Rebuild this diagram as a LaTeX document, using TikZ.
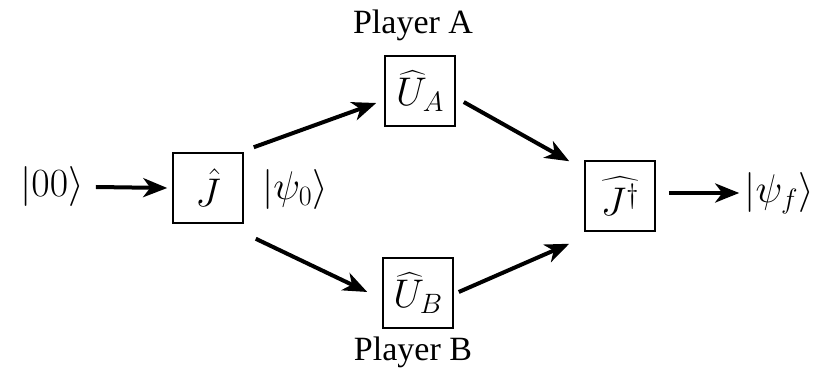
\RequirePackage{fix-cm}
\documentclass[tikz,border=0pt]{standalone}
\usepackage{amsmath}
\usepackage{fontspec}
\newfontfamily\playerfont{Liberation Serif}
\usetikzlibrary{arrows.meta}

\tikzset{
  gate/.style={draw,line width=1.5pt,minimum size=70pt,inner sep=0pt},
  ket/.style={inner sep=0pt},
  player/.style={font=\playerfont\fontsize{34}{38}\selectfont},
  arr/.style={->,line width=4pt}
}

\begin{document}
\begin{tikzpicture}[x=1pt,y=1pt,>={Stealth[length=24pt,width=19pt,inset=7pt]},
  font=\fontsize{40}{48}\selectfont]
  \useasboundingbox (0,0) rectangle (819,377);

  % input state and entangling gate
  \node[ket] (in) at (52,190) {$|00\rangle$};
  \node[gate] (J) at (208,189) {$\hat{J}$};
  \node[ket,anchor=west] (psi0) at (262,187) {$|\psi_0\rangle$};

  % the two players
  \node[gate] (UA) at (420,286) {$\widehat{U}_A$};
  \node[player] (pa) at (413,352) {Player A};
  \node[gate] (UB) at (418,84) {$\widehat{U}_B$};
  \node[player] (pb) at (413,25) {Player B};

  % disentangling gate and output
  \node[gate] (Jd) at (620,181) {$\widehat{J^{\dagger}}$};
  \node[ket] (out) at (779,184) {$|\psi_f\rangle$};

  \draw[arr] ([xshift=12pt]in.east) -- ([xshift=-5pt]J.west);
  \draw[arr] ([xshift=10pt,yshift=5pt]J.north east)
    -- ([xshift=-8pt,yshift=-12pt]UA.west);
  \draw[arr] ([xshift=8pt,yshift=-11pt]UA.east)
    -- ([xshift=-15pt,yshift=-1pt]Jd.north west);
  \draw[arr] ([xshift=12pt,yshift=-15pt]J.south east)
    -- ([xshift=-15pt,yshift=1pt]UB.west);
  \draw[arr] ([xshift=5pt,yshift=1pt]UB.east)
    -- ([xshift=-15pt,yshift=-12pt]Jd.south west);
  \draw[arr] ([xshift=13pt,yshift=3pt]Jd.east) -- ([xshift=-5pt]out.west);
\end{tikzpicture}
\end{document}
